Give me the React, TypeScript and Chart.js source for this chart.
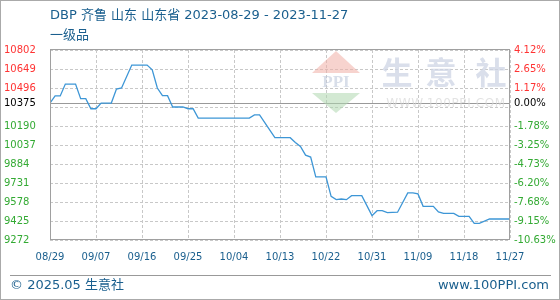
import React, { useEffect, useRef } from "react";
import { Chart, registerables } from "chart.js";

Chart.register(...registerables);

// Days since 2023-08-29 and price (CNY/t) at each change point
const dayOffsets = [0, 1, 2, 3, 5, 6, 7, 8, 9, 10, 12, 13, 14, 16, 19, 20, 21, 22, 23, 24, 26, 27, 28, 29, 39, 40, 41, 44, 47, 48, 49, 50, 51, 52, 54, 55, 56, 57, 58, 59, 61, 63, 64, 65, 66, 68, 70, 71, 72, 73, 75, 76, 77, 79, 80, 82, 83, 84, 86, 90];
const prices = [10375, 10432, 10432, 10528, 10528, 10410, 10410, 10329, 10329, 10375, 10375, 10488, 10496, 10681, 10681, 10643, 10496, 10434, 10434, 10343, 10343, 10329, 10329, 10254, 10254, 10279, 10279, 10096, 10096, 10058, 10025, 9955, 9940, 9780, 9780, 9623, 9597, 9602, 9597, 9629, 9629, 9468, 9508, 9508, 9492, 9496, 9651, 9651, 9643, 9543, 9543, 9498, 9486, 9486, 9462, 9462, 9406, 9406, 9441, 9441];

const dateLabels = ["08/29", "09/07", "09/16", "09/25", "10/04", "10/13", "10/22", "10/31", "11/09", "11/18", "11/27"];
const dateTickDays = [0, 9, 18, 27, 36, 45, 54, 63, 72, 81, 90];
const gridPrices = [10802, 10649, 10496, 10343, 10190, 10037, 9884, 9731, 9578, 9425, 9272];
const priceTicks = [10802, 10649, 10496, 10375, 10190, 10037, 9884, 9731, 9578, 9425, 9272];
const percentLabels = ["4.12%", "2.65%", "1.17%", "0.00%", "-1.78%", "-3.25%", "-4.73%", "-6.20%", "-7.68%", "-9.15%", "-10.63%"];
const basePrice = 10375;
const priceMin = 9272;
const priceMax = 10802;

const RED = "#ff3333";
const GREEN = "#33aa33";
const BLUE_TEXT = "#1a5f8e";
const FONT = "'DejaVu Sans', 'Noto Sans CJK SC', sans-serif";

const tickColor = (v: number) => (v > basePrice ? RED : v < basePrice ? GREEN : "#000000");

const watermark = {
  id: "watermark",
  beforeDatasetsDraw(chart: any) {
    const ctx = chart.ctx;
    ctx.save();
    // logo: upper red triangle
    ctx.fillStyle = "rgba(240,175,165,0.55)";
    ctx.beginPath();
    ctx.moveTo(336, 51);
    ctx.lineTo(360, 73);
    ctx.lineTo(312, 73);
    ctx.closePath();
    ctx.fill();
    // lower green triangle
    ctx.fillStyle = "rgba(175,215,175,0.55)";
    ctx.beginPath();
    ctx.moveTo(312, 93);
    ctx.lineTo(360, 93);
    ctx.lineTo(336, 113);
    ctx.closePath();
    ctx.fill();
    ctx.fillStyle = "rgba(190,200,218,0.6)";
    ctx.font = "bold 17px 'Liberation Serif', serif";
    ctx.textAlign = "center";
    ctx.textBaseline = "middle";
    ctx.fillText("PPI", 336, 83);
    // characters
    ctx.fillStyle = "rgba(205,212,228,0.75)";
    ctx.font = "bold 31px 'Noto Sans CJK SC', sans-serif";
    const chars = ["生", "意", "社"];
    const cx = [397, 441, 491];
    chars.forEach((c, i) => ctx.fillText(c, cx[i], 72));
    ctx.fillStyle = "rgba(215,215,215,0.7)";
    ctx.font = "12px 'DejaVu Sans', sans-serif";
    (ctx as any).letterSpacing = "0.6px";
    ctx.fillText("WWW.100PPI.COM", 446, 104);
    ctx.restore();
  },
};

const frame = {
  id: "frame",
  afterDraw(chart: any) {
    const { ctx, chartArea } = chart;
    ctx.save();
    ctx.strokeStyle = "#a0a0a0";
    ctx.lineWidth = 1;
    ctx.strokeRect(
      Math.round(chartArea.left) + 0.5,
      Math.round(chartArea.top) - 0.5,
      Math.round(chartArea.right - chartArea.left) - 1,
      Math.round(chartArea.bottom - chartArea.top)
    );
    ctx.restore();
  },
};

export default function App() {
  const canvasRef = useRef<HTMLCanvasElement | null>(null);

  useEffect(() => {
    if (!canvasRef.current) return;
    const chart = new Chart(canvasRef.current, {
      type: "line",
      data: {
        datasets: [
          {
            data: dayOffsets.map((d, i) => ({ x: d, y: prices[i] })),
            borderColor: "#3d96d6",
            borderWidth: 1.3,
            pointRadius: 0,
            tension: 0,
            fill: false,
          },
        ],
      },
      options: {
        animation: false,
        responsive: false,
        devicePixelRatio: 1,
        layout: { padding: { left: 4, top: 50, right: 0, bottom: 0 } },
        plugins: {
          legend: { display: false },
          tooltip: { enabled: false },
          title: { display: false },
        },
        scales: {
          x: {
            type: "linear",
            min: 0,
            max: 90,
            afterBuildTicks: (scale: any) => {
              scale.ticks = dateTickDays.map((v) => ({ value: v }));
            },
            afterFit: (scale: any) => {
              scale.height = 60;
            },
            ticks: {
              autoSkip: false,
              maxRotation: 0,
              padding: 11,
              color: BLUE_TEXT,
              font: { family: FONT, size: 10 },
              callback: (v: any) => {
                const i = dateTickDays.indexOf(Number(v));
                return i >= 0 ? dateLabels[i] : "";
              },
            },
            grid: { color: "#c8c8c8", drawTicks: false },
            border: {
              display: false,
              dash: (ctx: any) => (ctx.type === "tick" ? [3, 2] : []),
            },
          },
          y: {
            position: "left",
            min: priceMin,
            max: priceMax,
            afterBuildTicks: (scale: any) => {
              const all = Array.from(new Set([...gridPrices, ...priceTicks])).sort((a, b) => a - b);
              scale.ticks = all.map((v) => ({ value: v }));
            },
            afterFit: (scale: any) => {
              scale.width = 46;
            },
            ticks: {
              autoSkip: false,
              crossAlign: "far",
              padding: 0,
              font: { family: FONT, size: 10 },
              color: (ctx: any) => tickColor(ctx.tick.value),
              callback: (v: any) => (priceTicks.indexOf(Number(v)) >= 0 ? String(v) : ""),
            },
            grid: {
              drawTicks: false,
              color: (ctx: any) => (ctx.tick && ctx.tick.value === basePrice ? "#999999" : "#c8c8c8"),
            },
            border: {
              display: false,
              dash: (ctx: any) => (ctx.type === "tick" && ctx.tick.value !== basePrice ? [3, 2] : []),
            },
          },
          y2: {
            position: "right",
            min: priceMin,
            max: priceMax,
            afterBuildTicks: (scale: any) => {
              scale.ticks = priceTicks.slice().sort((a, b) => a - b).map((v) => ({ value: v }));
            },
            afterFit: (scale: any) => {
              scale.width = 50;
            },
            ticks: {
              autoSkip: false,
              crossAlign: "near",
              padding: 4,
              font: { family: FONT, size: 10 },
              color: (ctx: any) => tickColor(ctx.tick.value),
              callback: (v: any) => {
                const i = priceTicks.indexOf(Number(v));
                return i >= 0 ? percentLabels[i] : "";
              },
            },
            grid: { display: false, drawTicks: false },
            border: { display: false },
          },
        },
      } as any,
      plugins: [watermark, frame],
    });
    return () => chart.destroy();
  }, []);

  return (
    <div
      style={{
        position: "absolute",
        left: 0,
        top: 0,
        width: 560,
        height: 300,
        boxSizing: "border-box",
        border: "1px solid #aaaaaa",
        background: "#ffffff",
        overflow: "hidden",
        fontFamily: FONT,
      }}
    >
      <canvas ref={canvasRef} width={560} height={300} style={{ position: "absolute", left: -1, top: -1 }} />
      <div style={{ position: "absolute", left: 49, top: 6, fontSize: 13, lineHeight: "16px", color: BLUE_TEXT, whiteSpace: "nowrap" }}>
        DBP 齐鲁 山东 山东省 2023-08-29 - 2023-11-27
      </div>
      <div style={{ position: "absolute", left: 49, top: 26, fontSize: 13, lineHeight: "16px", color: BLUE_TEXT, whiteSpace: "nowrap" }}>
        一级品
      </div>
      <div style={{ position: "absolute", left: 9, top: 274, width: 541, height: 1, background: "#999999" }} />
      <div style={{ position: "absolute", left: 9, top: 276, fontSize: 13, lineHeight: "16px", color: BLUE_TEXT, whiteSpace: "nowrap" }}>
        © 2025.05 生意社
      </div>
      <div style={{ position: "absolute", right: 10, top: 276, fontSize: 13, lineHeight: "16px", color: BLUE_TEXT, whiteSpace: "nowrap" }}>
        www.100PPI.com
      </div>
    </div>
  );
}
